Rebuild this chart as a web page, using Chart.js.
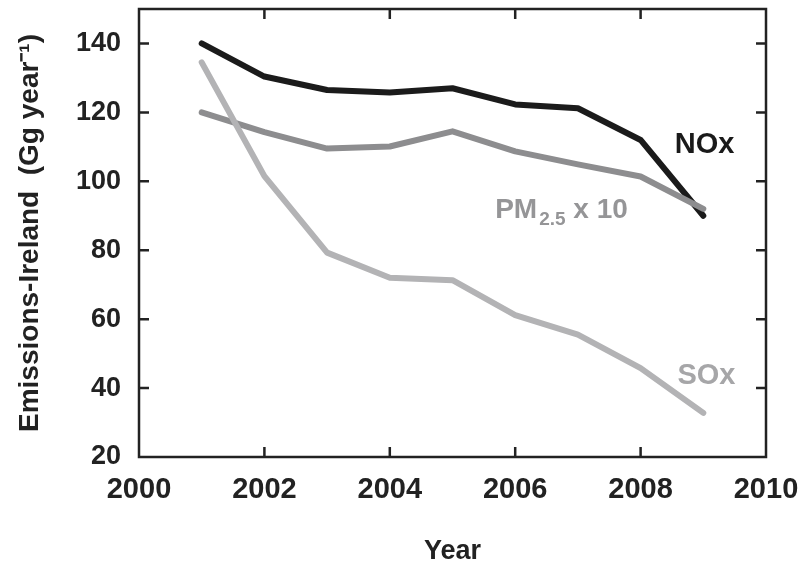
<!DOCTYPE html>
<html>
<head>
<meta charset="utf-8">
<script src="https://cdn.jsdelivr.net/npm/chart.js@4/dist/chart.umd.min.js"></script>
<style>
  html, body { margin: 0; padding: 0; background: #fff; }
  #wrap { width: 800px; height: 565px; }
</style>
</head>
<body>
<div id="wrap"><canvas id="canva1" width="800" height="565"></canvas></div>
<script>
const Years = [2001, 2002, 2003, 2004, 2005, 2006, 2007, 2008, 2009];
const NOx = [140, 130.4, 126.5, 125.8, 127, 122.3, 121.2, 112, 90];
const PM25x10 = [120, 114.3, 109.5, 110.1, 114.5, 108.7, 104.9, 101.4, 92];
const SOx = [134.5, 101.5, 79.3, 72, 71.3, 61.2, 55.5, 45.8, 32.8];
const yTicks = [20, 40, 60, 80, 100, 120, 140];
const xTicks = [2000, 2002, 2004, 2006, 2008, 2010];

const FONT = "'Liberation Sans', Arial, sans-serif";
const toPoints = (vals) => vals.map((v, i) => ({ x: Years[i], y: v }));

var ctx1 = document.getElementById('canva1').getContext('2d');

// labels next to the lines, in data units
const seriesLabels = [
    { text: 'NOx', x: 2009.02, y: 110.6, color: '#1a1a1a' },
    { text: 'SOx', x: 2009.05, y: 43.6, color: '#a6a6a8' },
];

// box round the plot with the ticks turned inwards
const framePlugin = {
    id: 'frame',
    afterDatasetsDraw(chart) {
        const { ctx, chartArea: a, scales } = chart;
        ctx.save();
        ctx.strokeStyle = '#222';
        ctx.lineWidth = 2.5;
        ctx.strokeRect(a.left, a.top, a.right - a.left, a.bottom - a.top);
        ctx.beginPath();
        scales.x.ticks.forEach(t => {
            if (t.value <= scales.x.min || t.value >= scales.x.max) return;
            const px = scales.x.getPixelForValue(t.value);
            ctx.moveTo(px, a.bottom); ctx.lineTo(px, a.bottom - 10);
            ctx.moveTo(px, a.top); ctx.lineTo(px, a.top + 10);
        });
        scales.y.ticks.forEach(t => {
            if (t.value <= scales.y.min || t.value >= scales.y.max) return;
            const py = scales.y.getPixelForValue(t.value);
            ctx.moveTo(a.left, py); ctx.lineTo(a.left + 10, py);
            ctx.moveTo(a.right, py); ctx.lineTo(a.right - 10, py);
        });
        ctx.stroke();
        ctx.restore();
    },
    afterDraw(chart) {
        const { ctx, scales } = chart;
        ctx.save();
        ctx.font = 'bold 29px ' + FONT;
        ctx.textAlign = 'center';
        ctx.textBaseline = 'middle';
        seriesLabels.forEach(l => {
            ctx.fillStyle = l.color;
            ctx.fillText(l.text, scales.x.getPixelForValue(l.x), scales.y.getPixelForValue(l.y));
        });
        // PM2.5 x 10 with the subscript
        let px = scales.x.getPixelForValue(2005.68);
        const py = scales.y.getPixelForValue(91.6);
        ctx.fillStyle = '#959597';
        ctx.textAlign = 'left';
        ctx.font = 'bold 28px ' + FONT;
        ctx.fillText('PM', px, py);
        px += ctx.measureText('PM').width + 2;
        ctx.font = 'bold 19px ' + FONT;
        ctx.fillText('2.5', px, py + 10);
        px += ctx.measureText('2.5').width;
        ctx.font = 'bold 28px ' + FONT;
        ctx.fillText(' x 10', px, py);
        ctx.restore();
    }
};

const lineStyle = {
    borderWidth: 6,
    pointRadius: 0,
    borderCapStyle: 'round',
    borderJoinStyle: 'round',
    tension: 0,
};

const emissionsData = {
    datasets: [{
        label: 'SOx',
        data: toPoints(SOx),
        borderColor: '#b3b3b5',
        order: 1,
        ...lineStyle
    }, {
        label: 'PM2.5 x 10',
        data: toPoints(PM25x10),
        borderColor: '#8d8d8f',
        order: 2,
        ...lineStyle
    }, {
        label: 'NOx',
        data: toPoints(NOx),
        borderColor: '#1b1b1b',
        order: 3,
        ...lineStyle
    }]
};

const emissionsConfig = {
    type: 'line',
    data: emissionsData,
    options: {
        responsive: false,
        animation: false,
        layout: { padding: { left: 0, top: 9, right: 34, bottom: 0 } },
        scales: {
            x: {
                type: 'linear',
                min: 2000,
                max: 2010,
                afterBuildTicks: (s) => { s.ticks = xTicks.map(v => ({ value: v })); },
                afterFit: (s) => { s.height = 108; s.paddingLeft = 0; s.paddingRight = 0; },
                grid: { display: false, drawTicks: false },
                border: { display: false },
                ticks: {
                    padding: 16,
                    color: '#222',
                    font: { family: FONT, size: 29, weight: 'bold' },
                    callback: (v) => String(v),
                },
                title: {
                    display: true,
                    text: 'Year',
                    color: '#222',
                    padding: 0,
                    font: { family: FONT, size: 27, weight: 'bold', lineHeight: 1 },
                },
            },
            y: {
                min: 20,
                max: 150,
                afterBuildTicks: (s) => { s.ticks = yTicks.map(v => ({ value: v })); },
                afterFit: (s) => { s.width = 139; s.paddingTop = 0; s.paddingBottom = 0; },
                grid: { display: false, drawTicks: false },
                border: { display: false },
                ticks: {
                    padding: 18,
                    color: '#222',
                    font: { family: FONT, size: 27, weight: 'bold' },
                },
                title: {
                    display: true,
                    text: 'Emissions-Ireland  (Gg year\u207B\u00B9)',
                    color: '#222',
                    padding: { top: 13 },
                    font: { family: FONT, size: 28, weight: 'bold' },
                },
            },
        },
        plugins: {
            legend: { display: false },
            tooltip: { enabled: false },
        },
    },
    plugins: [framePlugin],
};

const emissionsChart = new Chart(
    ctx1,
    emissionsConfig,
);
</script>
</body>
</html>
